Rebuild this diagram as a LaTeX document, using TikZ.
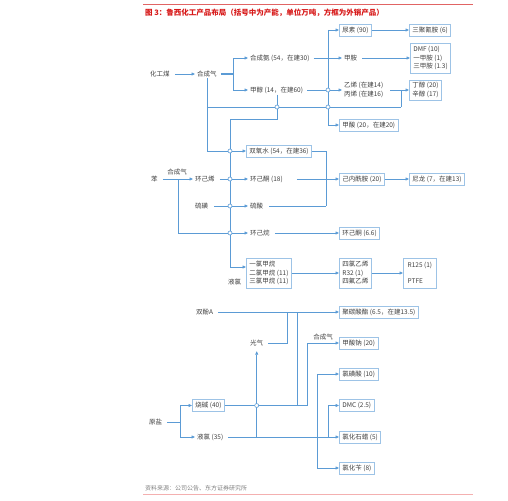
\documentclass[tikz,border=0pt]{standalone}
\usepackage{fontspec}
\setmainfont{Noto Sans CJK SC}
\usetikzlibrary{arrows.meta}
\definecolor{lnblue}{RGB}{91,155,213}
\definecolor{bxblue}{RGB}{157,195,230}
\definecolor{txtgray}{RGB}{64,64,64}
\definecolor{ttlred}{RGB}{215,25,25}
\definecolor{rulered}{RGB}{225,100,100}
\definecolor{rulepink}{RGB}{244,176,176}
\tikzset{
 txt/.style={font=\fontsize{6.5}{8.5}\selectfont, text=txtgray, inner xsep=2pt, inner ysep=1pt, anchor=west, align=left},
 bx/.style={txt, draw=bxblue, line width=0.8pt, inner xsep=3pt, inner ysep=2pt, minimum height=12pt},
 ln/.style={draw=lnblue, line width=0.7pt},
 arr/.style={ln, -{Triangle[length=3.5pt,width=3pt]}},
 jmp/.style={circle, draw=lnblue, fill=white, line width=0.6pt, inner sep=0pt, minimum size=4pt},
}
\begin{document}
\begin{tikzpicture}[x=1pt,y=-1pt]
\useasboundingbox (0,0) rectangle (508,500);
% title and rules
\draw[rulered, line width=0.8pt] (143,4) -- (473,4);
\node[anchor=west, text=ttlred, font=\bfseries\fontsize{7.5}{9}\selectfont, inner sep=0pt] (ttl) at (145,13) {图 3：鲁西化工产品布局（括号中为产能，单位万吨，方框为外销产品）};
\node[anchor=west, text=gray, font=\fontsize{6}{7}\selectfont, inner sep=0pt] (src) at (145,488) {资料来源：公司公告、东方证券研究所};
\draw[rulepink, line width=0.8pt] (143,494) -- (473,494);

% top nodes
\node[txt] (hgm) at (148,74) {化工煤};
\node[txt] (syn1) at (195,74) {合成气};
\node[txt] (hca) at (248,58) {合成氨 (54，在建30)};
\node[txt] (jc) at (248,90) {甲醇 (14，在建60)};
\node[bx] (ns) at (339,30) {尿素 (90)};
\node[bx] (slqa) at (409,30) {三聚氰胺 (6)};
\node[txt] (ja) at (342,58) {甲胺};
\node[bx, minimum height=30pt] (dmf) at (410,58) {DMF (10)\\一甲胺 (1)\\三甲胺 (1.3)};
\node[txt] (yx) at (342,90) {乙烯 (在建14)\\丙烯 (在建16)};
\node[bx, minimum height=20pt] (dc) at (409,90) {丁醇 (20)\\辛醇 (17)};
\node[bx] (js) at (339,125) {甲酸 (20，在建20)};

% middle nodes
\node[bx] (sys) at (246,151) {双氧水 (54，在建36)};
\node[txt] (ben) at (149,179) {苯};
\node[txt, anchor=center] (syn2) at (177,172) {合成气};
\node[txt] (hjx) at (193,179) {环己烯};
\node[txt] (hjt) at (248,179) {环己酮 (18)};
\node[bx] (nlam) at (339,179) {己内酰胺 (20)};
\node[bx] (nl) at (409,179) {尼龙 (7，在建13)};
\node[txt] (lh) at (193,206) {硫磺};
\node[txt] (ls) at (248,206) {硫酸};
\node[txt] (hjw) at (248,233) {环己烷};
\node[bx] (hjt2) at (339,233) {环己酮 (6.6)};
\node[bx, minimum height=30pt] (ylm) at (246,273) {一氯甲烷\\二氯甲烷 (11)\\三氯甲烷 (11)};
\node[txt] (yl1) at (226,282) {液氯};
\node[bx, minimum height=30pt] (slx) at (339,273) {四氯乙烯\\R32 (1)\\四氟乙烯};
\node[bx, minimum height=30pt, minimum width=33pt] (r125) at (403,273) {R125 (1)\\[8pt]PTFE};

% bottom nodes
\node[txt] (sfa) at (194,312) {双酚A};
\node[bx] (pc) at (339,312) {聚碳酸酯 (6.5，在建13.5)};
\node[txt] (gq) at (248,343) {光气};
\node[txt, anchor=center] (syn3) at (323,337) {合成气};
\node[bx] (jsn) at (339,343) {甲酸钠 (20)};
\node[bx] (lhs) at (339,374) {氯磺酸 (10)};
\node[bx] (sj) at (192,405.5) {烧碱 (40)};
\node[bx] (dmc) at (339,405.5) {DMC (2.5)};
\node[txt] (yy) at (147,422) {原盐};
\node[txt] (yl2) at (195,437) {液氯 (35)};
\node[bx] (lhsl) at (339,437) {氯化石蜡 (5)};
\node[bx] (lhb) at (339,468) {氯化苄 (8)};

% coordinates
\coordinate (b1) at (233,74);
\coordinate (vA) at (328,74);
\coordinate (k1) at (401,107);
\coordinate (k2) at (277,119);
\coordinate (k3) at (230,119);
\coordinate (k4) at (326,206);
\coordinate (k5) at (178,179);
\coordinate (k6) at (287,312);
\coordinate (k7) at (297,312);
\coordinate (k8) at (307,405.5);
\coordinate (k9) at (180,422);
\coordinate (k10) at (317,437);
\coordinate (k11) at (328,437);

% top connectors
\draw[arr, shorten <=3pt] (hgm.east) -- (syn1.west);
\draw[ln, line width=1.6pt, shorten <=2pt] (syn1.east) -- (b1);
\draw[arr] (b1) |- (hca.west);
\draw[arr] (b1) |- (jc.west);
\draw[ln] (ns.west -| vA) -- (js.west -| vA);
\draw[arr] (ns.west -| vA) -- (ns.west);
\draw[arr] (js.west -| vA) -- (js.west);
\draw[arr, shorten <=2pt] (hca.east) -- (ja.west);
\draw[arr, shorten <=3pt] (ja.east) -- (dmf.west);
\draw[arr] (ns.east) -- (slqa.west);
\draw[arr, shorten <=2pt] (jc.east) -- (yx.west);
\draw[ln] (syn1.south |- k1) -- (k1);
\draw[arr] (k1) |- (dc.west);
\draw[ln, shorten <=5pt] (yx.east) -- (yx.east -| k1);
\draw[arr] (syn1.south) |- (sys.west);
\draw[arr] (jc.south -| k2) -- (k2) -- (k3) |- ([yshift=6pt]ylm.west);

% middle connectors
\draw[ln] (sys.east) -| (k4);
\draw[ln, shorten <=4pt] (ls.east) -- (k4);
\draw[arr, shorten <=12pt] (hjt.east) -- (nlam.west);
\draw[arr] (nlam.east) -- (nl.west);
\draw[arr, shorten <=3pt] (ben.east) -- (hjx.west);
\draw[arr] (k5) |- (hjw.west);
\draw[arr, shorten <=3pt] (hjx.east) -- (hjt.west);
\draw[arr, shorten <=4pt] (lh.east) -- (ls.west);
\draw[arr, shorten <=3pt] (hjw.east) -- (hjt2.west);
\draw[arr] (ylm.east) -- (slx.west);
\draw[arr] (slx.east) -- (r125.west);

% bottom connectors
\draw[arr, shorten <=3pt] (sfa.east) -- (pc.west);
\draw[ln, shorten <=3pt] (gq.east) -| (k6);
\draw[ln] (sj.east) -- (k8);
\draw[ln] (sj.east -| k7) -- (k7);
\draw[arr] (k8) |- (jsn.west);
\draw[ln, shorten <=3pt] (yy.east) -- (k9);
\draw[arr] (k9) |- (sj.west);
\draw[arr] (k9) |- (yl2.west);
\draw[arr, shorten <=3pt] (yl2.east) -- (lhsl.west);
\draw[arr] (yl2.east -| gq.south) -- ([yshift=-4pt]gq.south);
\draw[arr] (k10) |- (lhs.west);
\draw[arr] (k10) |- (lhb.west);
\draw[arr] (k11) |- (dmc.west);

% crossing marks
\node[jmp] (c1) at (vA |- jc.east) {};
\node[jmp] (c2) at (vA |- k1) {};
\node[jmp] (c3) at (k2 |- k1) {};
\node[jmp] (c4) at (k3 |- sys.west) {};
\node[jmp] (c5) at (k3 |- hjx.east) {};
\node[jmp] (c6) at (k3 |- lh.east) {};
\node[jmp] (c7) at (k3 |- hjw.east) {};
\node[jmp] (c8) at (gq.south |- sj.east) {};
\end{tikzpicture}
\end{document}
